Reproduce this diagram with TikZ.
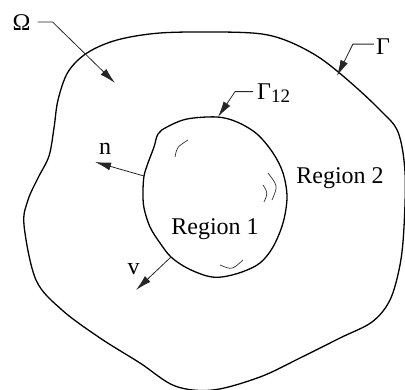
\documentclass[tikz,border=0pt]{standalone}
\usepackage{fontspec}
\setmainfont{Liberation Serif}
\usepackage{tikz}
\usetikzlibrary{arrows.meta,calc,positioning}
\tikzset{
  bdry/.style={draw=black, line width=1.3pt},
  leader/.style={-{Latex[length=16pt,width=8pt]}, line width=0.8pt, draw=black!85},
  vecarrow/.style={-{Latex[length=16pt,width=8pt]}, line width=0.8pt, draw=black!85},
  gloss/.style={draw=black!80, line width=0.7pt},
  lbl/.style={inner sep=0pt, font=\fontsize{24}{28}\selectfont}
}

\begin{document}
\begin{tikzpicture}[x=1pt,y=-1pt]
  \useasboundingbox (0,0) rectangle (405,390);
  \draw[bdry] plot[smooth cycle, tension=0.55] coordinates {
    (24,225) (28,200) (38,178) (49,156) (54,128) (58,100) (68,72) (87,53) (117,40)
    (160,33) (220,32) (262,34) (290,42) (320,58) (350,82) (380,110) (398,132)
    (405,172) (404,227) (400,265) (390,300) (372,322) (340,338) (300,358)
    (260,377) (213,390) (175,386) (140,363) (100,338) (62,310) (36,280)};
  \draw[bdry] plot[smooth cycle, tension=0.55] coordinates {
    (217,117) (187,119) (167,127) (158,134) (154,147) (148,163) (144,176)
    (143,192) (144,208) (150,227) (160,243) (171,257) (187,268) (207,276)
    (222,277) (242,272) (260,263) (273,247) (283,223) (287,197) (283,173)
    (273,153) (257,134) (237,122)};
  \draw[gloss] (175,157) .. controls (177,147) .. (188,140);
  \draw[gloss] (268,173) .. controls (278,186) .. (272,200);
  \draw[gloss] (263,185) .. controls (268,193) .. (264,202);
  \draw[gloss] (220,265) .. controls (232,270) .. (243,260);
  \node[lbl, anchor=base] (omega) at (21.5,31) {Ω};
  \node[lbl, anchor=base] (gamma) at (383,55) {Γ};
  \node[lbl, anchor=base west] (gamma12) at (257,100) {Γ\raisebox{-3pt}{\fontsize{19}{20}\selectfont 12}};
  \node[lbl, anchor=base] (nlbl) at (105,155) {n};
  \node[lbl, anchor=base] (vlbl) at (133.5,275) {v};
  \node[lbl, anchor=base] (reg1) at (215,235) {Region 1};
  \node[lbl, anchor=base] (reg2) at (340,184) {Region 2};
  \coordinate (omegatip) at (115,83);
  \coordinate (gammatip) at (337,76);
  \coordinate (gamma12tip) at (218,117);
  \coordinate (nfoot) at (144,176);
  \coordinate (ntip) at (95,162);
  \coordinate (vfoot) at (171,257);
  \coordinate (vtip) at (136,290);
  \draw[leader] ([xshift=7pt,yshift=1pt]omega.east) -- ++(15,0) -- (omegatip);
  \draw[leader] ([xshift=-2pt,yshift=3pt]gamma.west) -- ++(-21,0) -- (gammatip);
  \draw[leader] ([xshift=-4pt,yshift=2pt]gamma12.west) -- ++(-18,0) -- (gamma12tip);
  \draw[vecarrow] (nfoot) -- (ntip);
  \draw[vecarrow] (vfoot) -- (vtip);
\end{tikzpicture}
\end{document}
